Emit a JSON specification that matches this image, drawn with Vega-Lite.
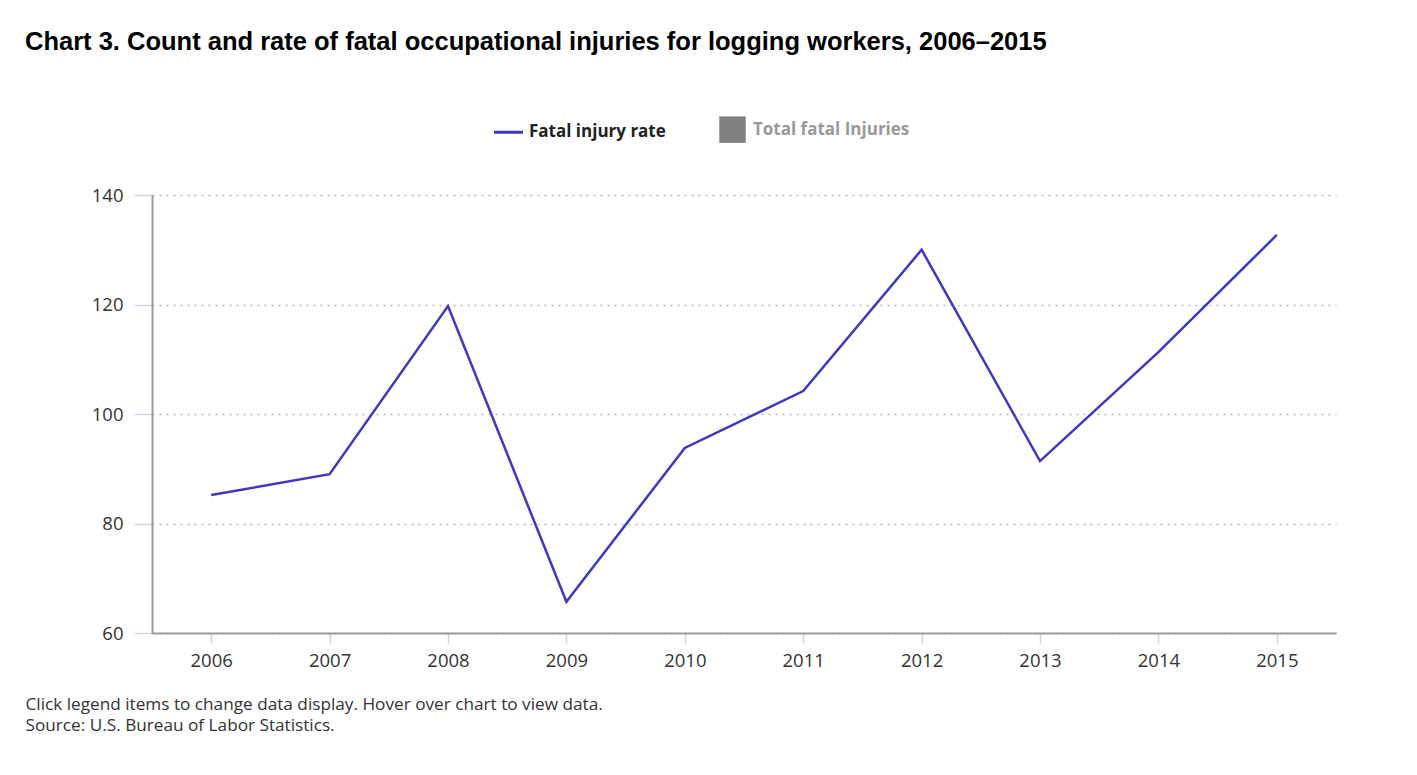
{
  "$schema": "https://vega.github.io/schema/vega-lite/v6.json",
  "width": 1184,
  "height": 438,
  "autosize": {"type": "none"},
  "padding": {"left": 152, "top": 195, "right": 81, "bottom": 142},
  "background": "white",
  "title": {
    "text": "Chart 3. Count and rate of fatal occupational injuries for logging workers, 2006–2015",
    "anchor": "start",
    "frame": "group",
    "dx": -127,
    "offset": 66,
    "font": "Liberation Sans",
    "fontSize": 25.5,
    "fontWeight": "bold",
    "color": "#000000"
  },
  "data": {
    "values": [
      {"year": "2006", "rate": 85.2, "series": "Fatal injury rate"},
      {"year": "2007", "rate": 89.0, "series": "Fatal injury rate"},
      {"year": "2008", "rate": 119.7, "series": "Fatal injury rate"},
      {"year": "2009", "rate": 65.7, "series": "Fatal injury rate"},
      {"year": "2010", "rate": 93.8, "series": "Fatal injury rate"},
      {"year": "2011", "rate": 104.2, "series": "Fatal injury rate"},
      {"year": "2012", "rate": 130.0, "series": "Fatal injury rate"},
      {"year": "2013", "rate": 91.4, "series": "Fatal injury rate"},
      {"year": "2014", "rate": 111.3, "series": "Fatal injury rate"},
      {"year": "2015", "rate": 132.7, "series": "Fatal injury rate"}
    ]
  },
  "mark": {"type": "line", "strokeWidth": 2.5},
  "encoding": {
    "x": {
      "field": "year",
      "type": "ordinal",
      "scale": {"type": "point", "padding": 0.5},
      "axis": {
        "labelAngle": 0,
        "labelFont": "Open Sans",
        "labelFontSize": 18.5,
        "labelColor": "#333333",
        "labelPadding": 8,
        "tickColor": "#ccd6eb",
        "tickSize": 10,
        "tickWidth": 1.5,
        "domainColor": "#999999",
        "domainWidth": 2,
        "grid": false,
        "title": ["Click legend items to change data display. Hover over chart to view data.", "Source: U.S. Bureau of Labor Statistics."],
        "titleAnchor": "start",
        "titleAlign": "left",
        "titleBaseline": "top",
        "titleX": -127,
        "titleY": 62,
        "titleFont": "Open Sans",
        "titleFontSize": 17.2,
        "titleFontWeight": "normal",
        "titleColor": "#333333",
        "titleLineHeight": 21
      }
    },
    "y": {
      "field": "rate",
      "type": "quantitative",
      "scale": {"domain": [60, 140], "nice": false, "zero": false},
      "axis": {
        "values": [60, 80, 100, 120, 140],
        "title": null,
        "labelFont": "Open Sans",
        "labelFontSize": 18.5,
        "labelColor": "#333333",
        "labelPadding": 11,
        "tickColor": "#ccd6eb",
        "tickSize": 18,
        "tickWidth": 1.5,
        "domainColor": "#999999",
        "domainWidth": 2,
        "grid": true,
        "gridColor": "#b8b8b8",
        "gridDash": [2, 5],
        "gridWidth": 1.5
      }
    },
    "color": {
      "field": "series",
      "type": "nominal",
      "scale": {"domain": ["Fatal injury rate", "Total fatal Injuries"], "range": ["#3f36c2", "#808080"]},
      "legend": {
        "title": null,
        "orient": "none",
        "direction": "horizontal",
        "legendX": 348,
        "legendY": -74,
        "columnPadding": 53,
        "labelOffset": 12,
        "labelFont": "Open Sans",
        "labelFontSize": 17,
        "labelFontWeight": "bold",
        "symbolSize": 841,
        "symbolStrokeWidth": 3,
        "labelLimit": 400,
        "encode": {
          "labels": {
            "update": {
              "fill": {"signal": "datum.value === 'Total fatal Injuries' ? '#999999' : '#222222'"}
            }
          },
          "symbols": {
            "update": {
              "shape": {"signal": "datum.value === 'Total fatal Injuries' ? 'square' : 'stroke'"},
              "fill": {"signal": "datum.value === 'Total fatal Injuries' ? '#808080' : 'transparent'"},
              "stroke": {"signal": "datum.value === 'Total fatal Injuries' ? '#808080' : '#3f36c2'"},
              "strokeWidth": {"signal": "datum.value === 'Total fatal Injuries' ? 0 : 3"},
              "size": {"signal": "datum.value === 'Total fatal Injuries' ? 700 : 841"}
            }
          }
        }
      }
    }
  },
  "config": {
    "font": "Open Sans",
    "view": {"stroke": null}
  }
}
